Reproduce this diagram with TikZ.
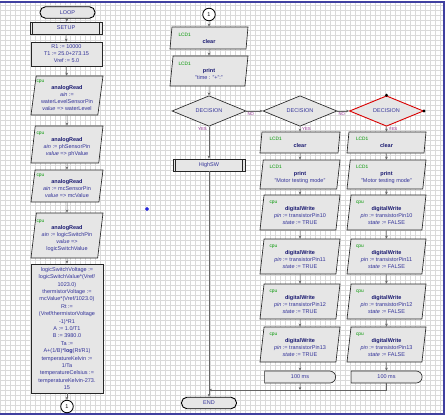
\documentclass[tikz,border=0pt]{standalone}
\usepackage{fontspec}
\setmainfont{Liberation Sans}
\usetikzlibrary{shapes.geometric, shapes.misc, arrows.meta}

\definecolor{boxfill}{RGB}{230,230,230}
\definecolor{txtblue}{RGB}{51,51,153}
\definecolor{namenavy}{RGB}{25,25,112}
\definecolor{taggreen}{RGB}{0,150,0}
\definecolor{yesnopurple}{RGB}{150,50,150}
\definecolor{linegray}{RGB}{100,100,100}
\definecolor{gridgray}{RGB}{218,218,218}
\definecolor{frameblue}{RGB}{64,64,160}
\definecolor{markblue}{RGB}{40,40,220}

\newcommand{\devtag}[1]{\makebox[0pt][l]{\hspace*{-30.5pt}\color{taggreen}\fontsize{4.8}{5}\selectfont #1}}
\newcommand{\fname}[1]{{\color{namenavy}\bfseries #1}}

\begin{document}
\begin{tikzpicture}[x=1pt, y=-1pt, >={Stealth[length=3pt, width=2.6pt]},
    flow/.style={draw=black!85, line width=0.65pt, fill=boxfill, text=txtblue,
        font=\fontsize{5.5}{7}\selectfont, inner sep=1pt, align=center},
    io/.style={flow, trapezium, trapezium left angle=81, trapezium right angle=99,
        trapezium stretches body},
    subr/.style={flow, rectangle, minimum width=72pt, minimum height=12pt,
        path picture={\draw[line width=1pt]
            ([xshift=2.5pt]path picture bounding box.north west) -- ([xshift=2.5pt]path picture bounding box.south west)
            ([xshift=-2.5pt]path picture bounding box.north east) -- ([xshift=-2.5pt]path picture bounding box.south east);}},
    term/.style={flow, rectangle, rounded corners=5.5pt, draw=black, line width=0.9pt,
        minimum width=55pt, minimum height=11.5pt},
    wait/.style={flow, rounded rectangle, rounded rectangle left arc=none,
        minimum width=73pt, minimum height=12pt},
    decide/.style={flow, diamond, inner sep=0pt, minimum width=74pt, minimum height=20pt},
    conn/.style={circle, draw=black, line width=0.8pt, fill=white, inner sep=0pt,
        minimum size=12.5pt, font=\fontsize{5.5}{6}\selectfont},
    flowline/.style={draw=linegray, line width=0.5pt, ->},
    yesno/.style={font=\fontsize{4.3}{5}\selectfont, text=yesnopurple, inner sep=1pt}]

    % ==== BACKGROUND ====
    \useasboundingbox (0,0) rectangle (448,416);
    \fill[white] (0,0) rectangle (448,416);
    \draw[gridgray, line width=0.3pt, step=5pt] (0,2) grid (444,414);
    \draw[frameblue, line width=1.5pt] (-2,2) rectangle (444,414);
    \node[diamond, fill=markblue, inner sep=0pt, minimum size=4.5pt] (mark) at (147,209) {};

    % ==== LEFT COLUMN ====
    \node[term] (loop) at (67.5,12.5) {LOOP};
    \node[subr] (setup) at (66,28) {SETUP};
    \node[flow, minimum width=71pt, minimum height=24pt] (init) at (66.5,54)
        {R1 := 10000\\T1 := 25.0+273.15\\Vref := 5.0};
    \node[io, minimum width=72pt, minimum height=39pt] (rd1) at (67,95.5)
        {\devtag{cpu}\\\fname{analogRead}\\\textit{ain} :=\\waterLevelSensorPin\\\textit{value} => waterLevel};
    \node[io, minimum width=72pt, minimum height=37pt] (rd2) at (67,144.5)
        {\devtag{cpu}\\\fname{analogRead}\\\textit{ain} := phSensorPin\\\textit{value} => phValue};
    \node[io, minimum width=72pt, minimum height=32pt] (rd3) at (67,186)
        {\devtag{cpu}\\\fname{analogRead}\\\textit{ain} := mcSensorPin\\\textit{value} => mcValue};
    \node[io, minimum width=72pt, minimum height=45pt] (rd4) at (67,235.5)
        {\devtag{cpu}\\\fname{analogRead}\\\textit{ain} := logicSwitchPin\\\textit{value} =>\\logicSwitchValue};
    \node[flow, minimum width=72pt, minimum height=129pt, font=\fontsize{5.5}{7.4}\selectfont] (calc) at (67,328.5)
        {logicSwitchVoltage :=\\logicSwitchValue*(Vref/\\1023.0)\\thermistorVoltage :=\\mcValue*(Vref/1023.0)\\Rt :=\\(Vref/thermistorVoltage\\-1)*R1\\A := 1.0/T1\\B := 3980.0\\Ta :=\\A+(1/B)*\textbf{log}(Rt/R1)\\temperatureKelvin :=\\1/Ta\\temperatureCelsius :=\\temperatureKelvin-273.\\15};
    \node[conn] (con1) at (67,406.5) {1};

    \draw[flowline] (loop) -- (setup);
    \draw[flowline] (setup) -- (init);
    \draw[flowline] (init) -- (rd1);
    \draw[flowline] (rd1) -- (rd2);
    \draw[flowline] (rd2) -- (rd3);
    \draw[flowline] (rd3) -- (rd4);
    \draw[flowline] (rd4) -- (calc);
    \draw[flowline] (calc) -- (con1);

    % ==== MIDDLE COLUMN ====
    \node[conn] (con2) at (209,14.5) {1};
    \node[io, minimum width=78pt, minimum height=22pt] (clr1) at (209,38)
        {\devtag{LCD1}\\\fname{clear}};
    \node[io, minimum width=78pt, minimum height=30pt] (prn1) at (209,71)
        {\devtag{LCD1}\\\fname{print}\\"time : "+":"};
    \node[decide] (dec1) at (209,111) {DECISION};
    \node[subr] (high) at (209,165) {HighSW};
    \node[term] (stop) at (209,403) {END};

    \draw[flowline] (con2) -- (clr1);
    \draw[flowline] (clr1) -- (prn1);
    \draw[flowline] (prn1) -- (dec1);
    \draw[flowline] (dec1) -- (high);
    \draw[flowline] (high) -- (stop);

    % ==== DECISIONS ====
    \node[decide] (dec2) at (300,111) {DECISION};
    \node[decide, draw=red!85!black, line width=0.9pt] (dec3) at (386.5,111) {DECISION};
    \fill (dec3.north) circle (1.6);
    \fill (dec3.east) circle (1.6);

    \draw[flowline] (dec1) -- (dec2);
    \draw[flowline] (dec2) -- (dec3);
    \node[yesno, anchor=north west] (no1) at (dec1.east) {NO};
    \node[yesno, anchor=north west] (no2) at (dec2.east) {NO};
    \node[yesno, anchor=north east] (yes1) at ([xshift=-1pt]dec1.south) {YES};
    \node[yesno, anchor=north west] (yes2) at ([xshift=1pt]dec2.south) {YES};
    \node[yesno, anchor=north west] (yes3) at ([xshift=1pt]dec3.south) {YES};

    % ==== MOTOR COLUMNS ====
    \node[io, minimum width=80pt, minimum height=21pt] (clr2) at (300,142.5)
        {\devtag{LCD1}\\\fname{clear}};
    \node[io, minimum width=80pt, minimum height=29pt] (prn2) at (300,174.5)
        {\devtag{LCD1}\\\fname{print}\\"Motor testing mode"};
    \node[io, minimum width=79pt, minimum height=21pt] (clr3) at (386.5,142.5)
        {\devtag{LCD1}\\\fname{clear}};
    \node[io, minimum width=79pt, minimum height=29pt] (prn3) at (386.5,174.5)
        {\devtag{LCD1}\\\fname{print}\\"Motor testing mode"};
    \foreach \i/\y/\k in {1/212.5/10, 2/256.5/11, 3/301.5/12, 4/344.5/13} {
        \node[io, minimum width=80pt, minimum height=35pt] (on\i) at (300,\y)
            {\devtag{cpu}\\\fname{digitalWrite}\\\textit{pin} := transistorPin\k\\\textit{state} := TRUE};
        \node[io, minimum width=79pt, minimum height=35pt] (off\i) at (386.5,\y)
            {\devtag{cpu}\\\fname{digitalWrite}\\\textit{pin} := transistorPin\k\\\textit{state} := FALSE};
    }
    \node[wait] (wait2) at (300,377) {100 ms};
    \node[wait] (wait3) at (386.5,377) {100 ms};

    \draw[flowline] (dec2) -- (clr2);
    \draw[flowline] (clr2) -- (prn2);
    \draw[flowline] (prn2) -- (on1);
    \draw[flowline] (dec3) -- (clr3);
    \draw[flowline] (clr3) -- (prn3);
    \draw[flowline] (prn3) -- (off1);
    \foreach \i/\j in {1/2, 2/3, 3/4} {
        \draw[flowline] (on\i) -- (on\j);
        \draw[flowline] (off\i) -- (off\j);
    }
    \draw[flowline] (on4) -- (wait2);
    \draw[flowline] (off4) -- (wait3);

    % ==== MERGE ====
    \coordinate (join) at (209,390);
    \draw[flowline] (wait3) |- (join);
    \draw[flowline] (wait2) -- (wait2 |- join);
\end{tikzpicture}
\end{document}
